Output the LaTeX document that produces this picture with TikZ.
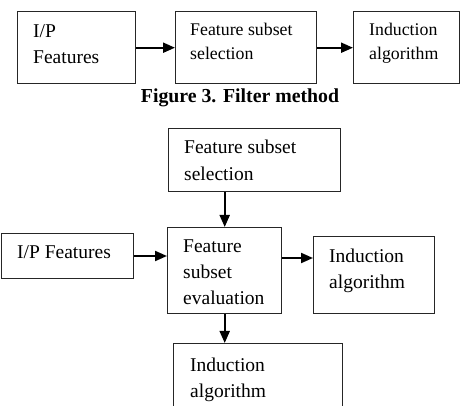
\documentclass[tikz,border=0pt]{standalone}
\usepackage{fontspec}
\setmainfont{Liberation Serif}
\usetikzlibrary{arrows.meta}
\tikzset{
  box/.style={draw=black!85, line width=1.4pt, rectangle, anchor=north west, inner sep=0pt},
  txt/.style={anchor=base west, inner sep=0pt, font=\fontsize{19.5}{26}\selectfont},
  txts/.style={anchor=base west, inner sep=0pt, font=\fontsize{17.8}{24}\selectfont},
  arr/.style={line width=2pt, -{Triangle[length=12pt,width=10pt]}},
}
\begin{document}
\begin{tikzpicture}[x=1pt,y=-1pt]
\useasboundingbox (0,0) rectangle (461,406);
\clip (0,0) rectangle (461,406);
% top row
\node[box, minimum width=118pt, minimum height=72pt] (a1) at (17,11) {};
\node[box, minimum width=141pt, minimum height=72pt] (a2) at (175,11) {};
\node[box, minimum width=106pt, minimum height=72pt] (a3) at (353,11) {};
\node[txt] (t1a) at (33,38) {I/P};
\node[txt] (t1b) at (33,64) {Features};
\node[txts] (t2a) at (190,36) {Feature subset};
\node[txts] (t2b) at (190,60) {selection};
\node[txts] (t3a) at (369,36) {Induction};
\node[txts] (t3b) at (369,60) {algorithm};
\draw[arr] (a1.east) -- (a2.west);
\draw[arr] (a2.east) -- (a3.west);
\node[anchor=base, inner sep=0pt, font=\fontsize{19.8}{24}\bfseries] (cap) at (240,103) {Figure 3. Filter method};
% bottom diagram
\node[box, minimum width=172pt, minimum height=63pt] (fss) at (168,128) {};
\node[txt] (fssa) at (184,154) {Feature subset};
\node[txt] (fssb) at (184,181) {selection};
\node[box, minimum width=132pt, minimum height=45pt] (ip) at (1,233) {};
\node[txt] (ipt) at (17,259) {I/P Features};
\node[box, minimum width=114pt, minimum height=86pt] (fse) at (167,227) {};
\node[txt] (fsea) at (183,253) {Feature};
\node[txt] (fseb) at (183,279) {subset};
\node[txt] (fsec) at (183,305) {evaluation};
\node[box, minimum width=121pt, minimum height=77pt] (ind) at (313,236) {};
\node[txt] (inda) at (329,263) {Induction};
\node[txt] (indb) at (329,289) {algorithm};
\node[box, minimum width=169pt, minimum height=80pt] (ind2) at (173,343) {};
\node[txt] (ind2a) at (190,371) {Induction};
\node[txt] (ind2b) at (190,398) {algorithm};
\draw[arr] (fse.north |- fss.south) -- (fse.north);
\draw[arr] (ip.east |- 0,256) -- (fse.west |- 0,256);
\draw[arr] (fse.east |- 0,258) -- (ind.west |- 0,258);
\draw[arr] (fse.south) -- (fse.south |- ind2.north);
\end{tikzpicture}
\end{document}
